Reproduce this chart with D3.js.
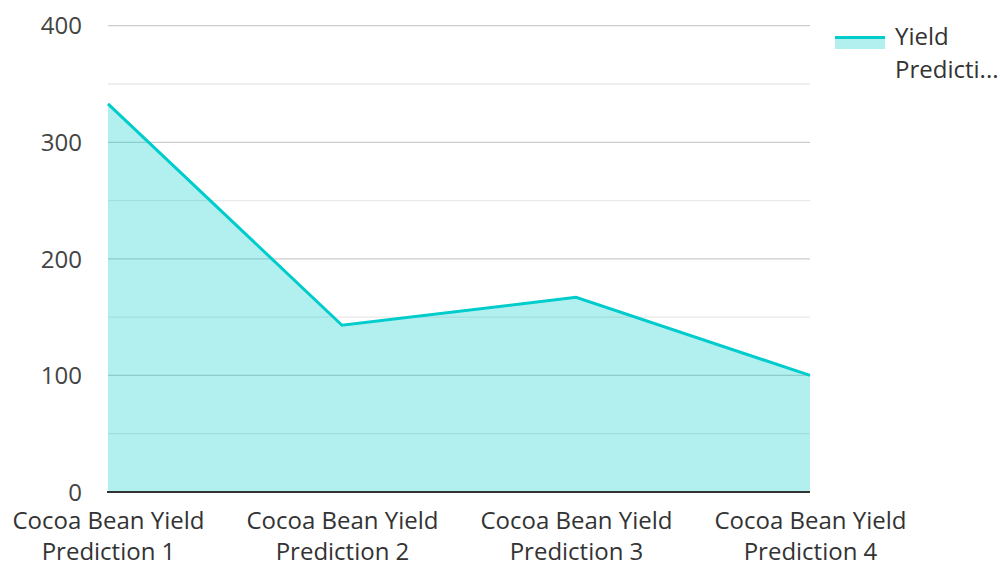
<!DOCTYPE html>
<html>
<head>
<meta charset="utf-8">
<script src="https://cdn.jsdelivr.net/npm/d3@7"></script>
<style>
body { margin: 0; background: #fff; }
svg { display: block; font-family: 'Open Sans', sans-serif; }
</style>
</head>
<body>
<div id="chart"></div>
<script>
// data
var categories = ['Cocoa Bean Yield Prediction 1', 'Cocoa Bean Yield Prediction 2', 'Cocoa Bean Yield Prediction 3', 'Cocoa Bean Yield Prediction 4'];
var yieldValues = [333, 143, 167, 100];
var yTicks = [0, 100, 200, 300, 400];
var seriesName = 'Yield Predicti...';

var width = 1000, height = 562;
var fs = 24;
var svg = d3.select('#chart').append('svg').attr('width', width).attr('height', height);

var x = d3.scalePoint().domain(categories).range([108, 810]);
var y = d3.scaleLinear().domain([0, 400]).range([492, 25.7]);

// grid, minor lines in between
var grid = svg.append('g');
d3.range(0, 401, 50).forEach(function (v) {
    grid.append('line')
        .attr('x1', 108).attr('x2', 810)
        .attr('y1', y(v)).attr('y2', y(v))
        .attr('stroke', v % 100 === 0 ? '#cccccc' : '#e9e9e9')
        .attr('stroke-width', 1.3);
});

var data = categories.map(function (c, i) { return { c: c, v: yieldValues[i] }; });

var area = d3.area().x(d => x(d.c)).y0(y(0)).y1(d => y(d.v));
var line = d3.line().x(d => x(d.c)).y(d => y(d.v));

svg.append('path').datum(data).attr('d', area).attr('fill', '#00cccc').attr('fill-opacity', 0.3);
svg.append('path').datum(data).attr('d', line).attr('fill', 'none').attr('stroke', '#00cccc').attr('stroke-width', 3);

// baseline
svg.append('line').attr('x1', 107).attr('x2', 810).attr('y1', y(0)).attr('y2', y(0))
    .attr('stroke', '#333').attr('stroke-width', 2);

// y axis labels
var yAxis = svg.append('g').attr('transform', 'translate(82,0)')
    .call(d3.axisLeft(y).tickValues(yTicks).tickSize(0).tickPadding(0));
yAxis.select('.domain').remove();
yAxis.selectAll('text').attr('font-size', fs).attr('fill', '#444').attr('font-family', 'Open Sans').attr('dy', '0.34em');

// x axis labels, two lines each
var xAxis = svg.append('g').attr('transform', 'translate(0,' + y(0) + ')')
    .call(d3.axisBottom(x).tickSize(0).tickPadding(0).tickFormat(''));
xAxis.select('.domain').remove();
xAxis.selectAll('.tick').each(function (d) {
    var t = d3.select(this).append('text').attr('text-anchor', 'middle')
        .attr('font-size', fs).attr('fill', '#333').attr('font-family', 'Open Sans');
    var words = d.split(' ');
    t.append('tspan').attr('x', 0).attr('y', 37).text(words.slice(0, 3).join(' '));
    t.append('tspan').attr('x', 0).attr('y', 68).text(words.slice(3).join(' '));
});

// legend
var legend = svg.append('g').attr('transform', 'translate(835,36)');
legend.append('rect').attr('width', 50).attr('height', 13).attr('fill', '#00cccc').attr('fill-opacity', 0.3);
legend.append('line').attr('x1', 0).attr('x2', 50).attr('y1', 1.5).attr('y2', 1.5)
    .attr('stroke', '#00cccc').attr('stroke-width', 3);
var lt = legend.append('text').attr('font-size', fs).attr('fill', '#333').attr('font-family', 'Open Sans');
lt.append('tspan').attr('x', 60).attr('y', 9).text(seriesName.split(' ')[0]);
lt.append('tspan').attr('x', 60).attr('y', 42).text(seriesName.split(' ')[1]);
</script>
</body>
</html>
